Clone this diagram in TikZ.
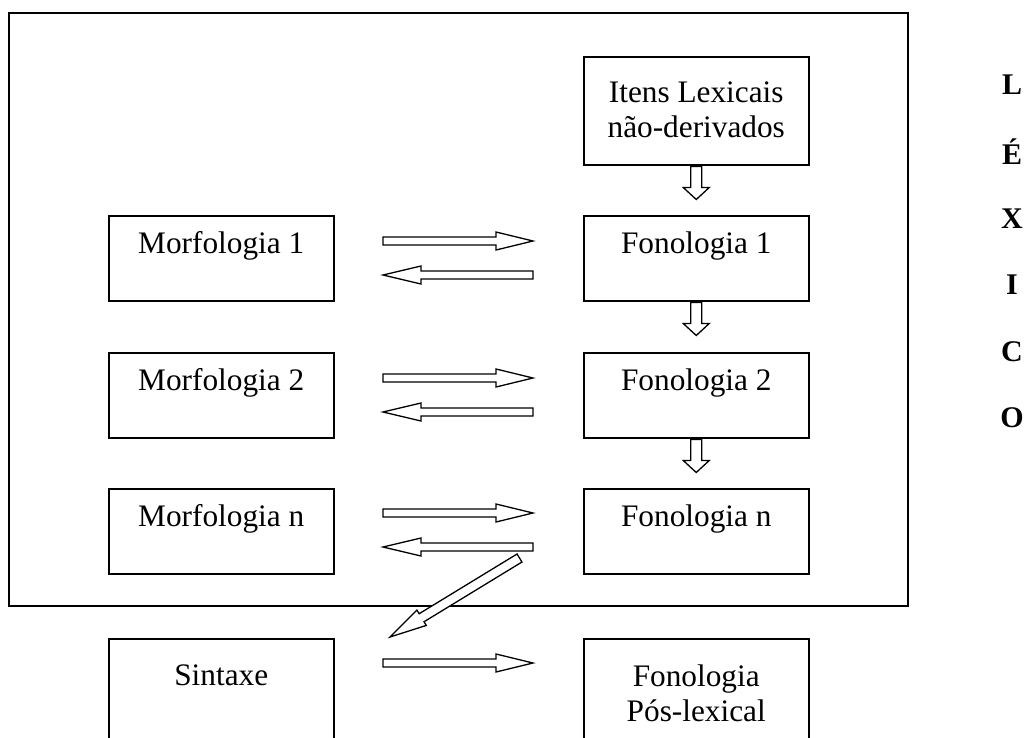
\documentclass[tikz,border=0pt]{standalone}
\usepackage{fontspec}
\setmainfont{Liberation Serif}
\usetikzlibrary{calc}

\tikzset{
  box/.style={draw, line width=1.5pt, inner sep=0pt, anchor=north west},
  colbox/.style={box, minimum width=225pt, minimum height=85pt},
  lbl/.style={font=\fontsize{31.3pt}{35pt}\selectfont, align=center, inner sep=0pt},
  blk/.style={draw, line width=1.3pt, fill=white, line join=miter},
  side/.style={font=\fontsize{30pt}{34pt}\selectfont\bfseries, inner sep=0pt}
}

% hollow block arrow: from, to, head length, shaft half width, head half width
\newcommand\blockarrow[5]{%
  \coordinate (#2-base) at ($(#2)!#3!(#1)$);
  \draw[blk] ($(#1)!#4!90:(#2)$) -- ($(#2-base)!#4!90:(#2)$)
    -- ($(#2-base)!#5!90:(#2)$) -- (#2)
    -- ($(#2-base)!#5!-90:(#2)$) -- ($(#2-base)!#4!-90:(#2)$)
    -- ($(#1)!#4!-90:(#2)$) -- cycle;}

\begin{document}
\begin{tikzpicture}[x=1pt, y=-1pt]
  \useasboundingbox (0,0) rectangle (1028,737);

  % lexicon frame
  \node[box, minimum width=899pt, minimum height=593pt] (lexframe) at (8,12) {};

  % right column
  \node[box, minimum width=225pt, minimum height=108pt] (itens) at (583,56) {};
  \node[lbl] (itenstxt) at ($(itens.north)+(0,54)$) {Itens Lexicais\\não-derivados};

  \node[colbox] (fon1) at (583,215) {};
  \node[lbl] (fon1txt) at ($(fon1.north)+(0,31)$) {Fonologia 1};
  \node[colbox] (fon2) at (583,352) {};
  \node[lbl] (fon2txt) at ($(fon2.north)+(0,31)$) {Fonologia 2};
  \node[colbox] (fonn) at (583,488) {};
  \node[lbl] (fonntxt) at ($(fonn.north)+(0,31)$) {Fonologia n};

  % left column
  \node[colbox] (morf1) at (108,215) {};
  \node[lbl] (morf1txt) at ($(morf1.north)+(0,31)$) {Morfologia 1};
  \node[colbox] (morf2) at (108,352) {};
  \node[lbl] (morf2txt) at ($(morf2.north)+(0,31)$) {Morfologia 2};
  \node[colbox] (morfn) at (108,488) {};
  \node[lbl] (morfntxt) at ($(morfn.north)+(0,31)$) {Morfologia n};

  % post-lexical level (runs off the page bottom)
  \node[box, minimum width=225pt, minimum height=120pt] (sint) at (108,638) {};
  \node[lbl] (sinttxt) at ($(sint.north)+(0,37)$) {Sintaxe};
  \node[box, minimum width=225pt, minimum height=120pt] (fonpl) at (583,638) {};
  \node[lbl] (fonpltxt) at ($(fonpl.north)+(0,55)$) {Fonologia\\Pós-lexical};

  % vertical lettering
  \foreach \ch/\k [count=\i] in {L/0, É/1, X/2, I/3, C/4, O/5}
    \node[side] (letter\i) at (1012, 85+66.6*\k) {\ch};

  % arrow end points
  \coordinate (d0a) at ($(itens.south)+(0,1)$);
  \coordinate (d0b) at ($(itens.south)+(0,34)$);
  \coordinate (d1a) at ($(fon1.south)+(0,1)$);
  \coordinate (d1b) at ($(fon1.south)+(0,34)$);
  \coordinate (d2a) at ($(fon2.south)+(0,1)$);
  \coordinate (d2b) at ($(fon2.south)+(0,34)$);

  \coordinate (r1a) at (383,241);  \coordinate (r1b) at (533,241);
  \coordinate (l1a) at (533,275);  \coordinate (l1b) at (383,275);
  \coordinate (r2a) at (383,378);  \coordinate (r2b) at (533,378);
  \coordinate (l2a) at (533,412);  \coordinate (l2b) at (383,412);
  \coordinate (r3a) at (383,513);  \coordinate (r3b) at (533,513);
  \coordinate (l3a) at (533,547);  \coordinate (l3b) at (383,547);
  \coordinate (r4a) at (383,663);  \coordinate (r4b) at (533,663);
  \coordinate (diaga) at (519.5,558); \coordinate (diagb) at (390,637);

  % downward arrows
  \blockarrow{d0a}{d0b}{12pt}{5.5pt}{13pt}
  \blockarrow{d1a}{d1b}{12pt}{5.5pt}{13pt}
  \blockarrow{d2a}{d2b}{12pt}{5.5pt}{13pt}

  % horizontal arrows
  \blockarrow{r1a}{r1b}{37pt}{4pt}{9pt}
  \blockarrow{l1a}{l1b}{38pt}{4pt}{9pt}
  \blockarrow{r2a}{r2b}{37pt}{4pt}{9pt}
  \blockarrow{l2a}{l2b}{38pt}{4pt}{9pt}
  \blockarrow{r3a}{r3b}{37pt}{4pt}{9pt}
  \blockarrow{l3a}{l3b}{38pt}{4pt}{9pt}
  \blockarrow{r4a}{r4b}{37pt}{4pt}{9pt}

  % exit from the lexicon
  \blockarrow{diaga}{diagb}{37pt}{4.7pt}{9pt}
\end{tikzpicture}
\end{document}
